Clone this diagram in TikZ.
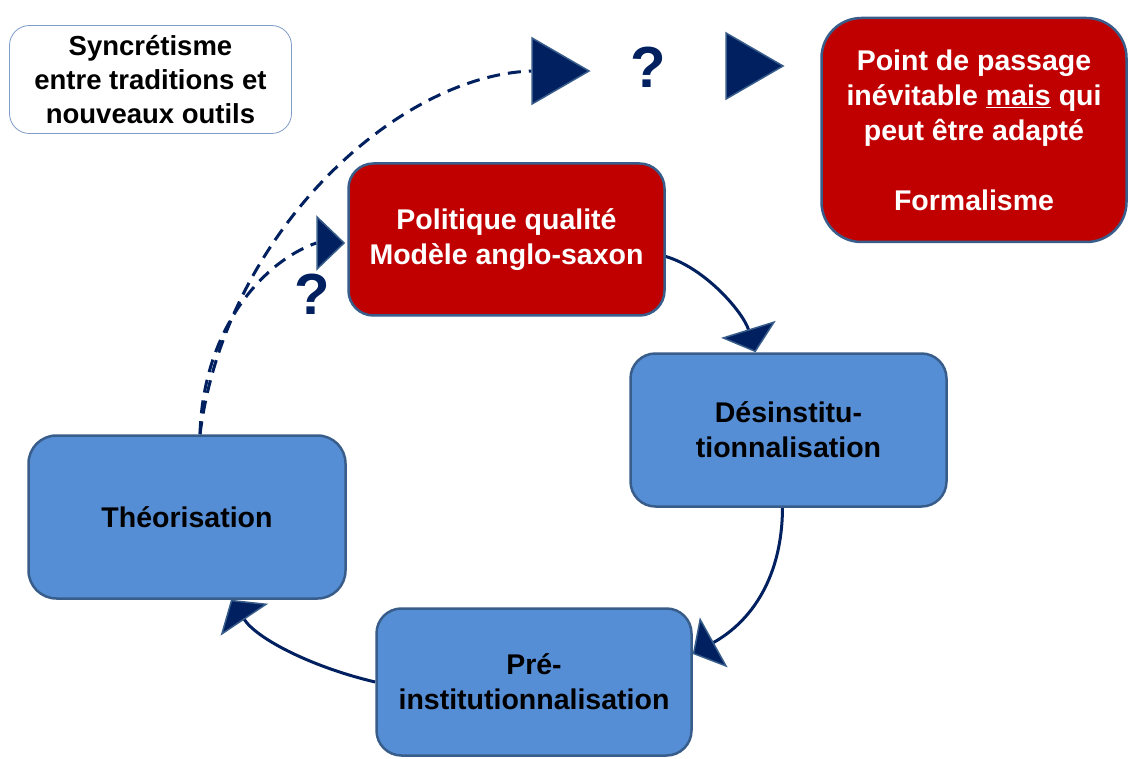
\documentclass[tikz,border=0pt]{standalone}
\usepackage{fontspec}
\setmainfont{Liberation Sans}
\usetikzlibrary{shapes.geometric,arrows.meta}
\pgfdeclarelayer{bg}
\pgfsetlayers{bg,main}
\definecolor{redbox}{HTML}{C00000}
\definecolor{bluebox}{HTML}{558ED5}
\definecolor{edgecol}{HTML}{385D8A}
\definecolor{navy}{HTML}{002060}
\definecolor{pale}{HTML}{7F9CC8}
\begin{document}
\begin{tikzpicture}[x=1pt,y=-1pt,
  box/.style={rectangle, rounded corners=25pt, line width=2.5pt, draw=edgecol, align=center,
    font=\bfseries\fontsize{28.5}{35}\selectfont, inner sep=0pt},
  redb/.style={box, fill=redbox, text=white},
  blueb/.style={box, fill=bluebox, text=black},
  tri/.style={isosceles triangle, isosceles triangle stretches, shape border rotate=0,
    fill=navy, draw=edgecol, line width=1.5pt, inner sep=0pt, anchor=apex},
  link/.style={draw=navy, line width=3pt},
  dlink/.style={draw=navy, line width=3pt, dash pattern=on 13pt off 8pt},
  qmark/.style={text=navy, font=\bfseries\fontsize{58}{60}\selectfont, inner sep=0pt},
  tipped/.style={-{Triangle[width=57pt,length=24pt,fill=navy,color=edgecol,line width=1.5pt]}}
]
\useasboundingbox (0,0) rectangle (1130,759);
\begin{pgfonlayer}{bg}
\fill[white] (0,0) rectangle (1130,759);
\end{pgfonlayer}

\node[box, draw=pale, line width=0.8pt, fill=white, rounded corners=20pt,
  minimum width=282pt, minimum height=108pt,
  font=\bfseries\fontsize{27.5}{34}\selectfont] (sync) at (150.5,79.5)
  {Syncrétisme\\entre traditions et\\nouveaux outils};

\node[redb, minimum width=316pt, minimum height=152pt] (pol) at (506.5,239.5)
  {Politique qualité\\Modèle anglo-saxon};
\node[redb, rounded corners=40pt, minimum width=305pt, minimum height=224pt] (pt) at (974,130)
  {Point de passage\\inévitable \underline{mais} qui\\peut être adapté\\[35pt]Formalisme};
\node[blueb, minimum width=316pt, minimum height=153pt] (des) at (788.5,430)
  {Désinstitu-\\tionnalisation};
\node[blueb, rounded corners=28pt, minimum width=317pt, minimum height=163pt] (theo) at (187,517)
  {Théorisation};
\node[blueb, minimum width=315pt, minimum height=147pt] (pre) at (534,682)
  {Pré-\\institutionnalisation};

\node[tri, minimum height=57pt, minimum width=66pt] (t1) at (591,71) {};
\node[tri, minimum height=57pt, minimum width=66pt] (t2) at (785,66) {};
\node[tri, minimum height=27pt, minimum width=52pt] (t3) at (346,243) {};
\node[qmark] (q1) at (648,67) {?};
\node[qmark] (q2) at (312,294) {?};

\begin{pgfonlayer}{bg}
\draw[link, tipped] ([yshift=-17pt]pol.east) .. controls (705,268) and (743,312) .. ([xshift=-33pt]des.north);
\draw[link, tipped] ([xshift=-6pt]des.south) .. controls (782,585) and (745,625) .. ([yshift=28pt]pre.east);
\draw[link, tipped] (pre.west) .. controls (315,668) and (258,640) .. ([xshift=44pt]theo.south);
\draw[dlink] ([xshift=13pt]theo.north) .. controls (225,235) and (395,76) .. (t1.west);
\draw[dlink] ([xshift=13pt]theo.north) .. controls (203,330) and (262,262) .. (t3.west);
\end{pgfonlayer}
\end{tikzpicture}
\end{document}
